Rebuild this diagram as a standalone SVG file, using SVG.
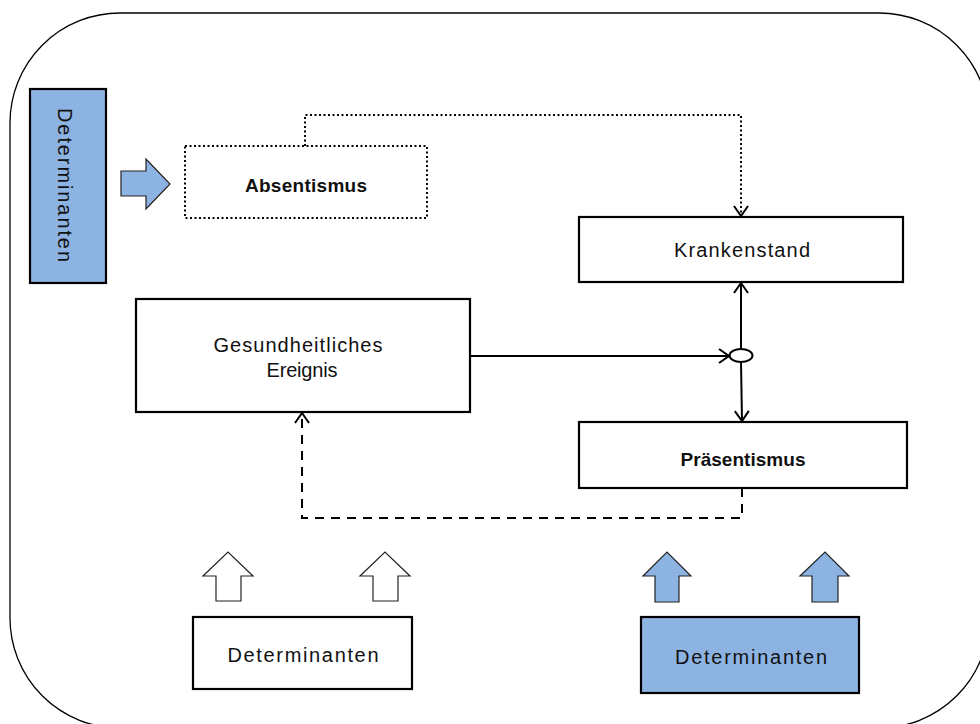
<svg xmlns="http://www.w3.org/2000/svg" width="980" height="724" viewBox="0 0 980 724">
<style>
  .box{fill:#ffffff;stroke:#000;stroke-width:2.2}
  .blue{fill:#8db3e2;stroke:#000;stroke-width:2.2}
  .dotbox{fill:#ffffff;stroke:#000;stroke-width:2;stroke-dasharray:2 2.5}
  .t{font-family:"Liberation Sans",Arial,sans-serif;font-size:20px;fill:#111;text-anchor:middle}
  .b{font-weight:bold;font-size:19px}
  .con{fill:none;stroke:#000;stroke-width:2}
  .dotted{stroke-dasharray:2 2.5}
  .dashed{stroke-dasharray:9 7}
  .barrow{fill:#8db3e2;stroke:#222;stroke-width:1.2}
  .warrow{fill:#ffffff;stroke:#222;stroke-width:1.2}
</style>
<defs>
  <marker id="open" markerUnits="userSpaceOnUse" markerWidth="14" markerHeight="18" refX="11" refY="8" orient="auto">
    <path d="M1,1 L11,8 L1,15" fill="none" stroke="#000" stroke-width="2" stroke-dasharray="none"/>
  </marker>
</defs>
<rect x="10" y="13" width="979" height="715" rx="110" ry="110" fill="#ffffff" stroke="#000" stroke-width="1.3"/>

<g id="det-left">
  <rect class="blue" x="30" y="89" width="76" height="194"/>
  <text class="t" transform="translate(58,185) rotate(90)" x="0" y="0" textLength="154" lengthAdjust="spacing">Determinanten</text>
</g>
<g id="arrow-left">
  <polygon class="barrow" points="121,171 146,171 146,159 170,184 146,209 146,196 121,196"/>
</g>
<g id="absentismus">
  <rect class="dotbox" x="185" y="146" width="242" height="72"/>
  <text class="t b" x="306" y="192" textLength="122" lengthAdjust="spacing">Absentismus</text>
</g>
<g id="krankenstand">
  <rect class="box" x="579" y="217" width="324" height="65"/>
  <text class="t" x="742" y="257" textLength="136" lengthAdjust="spacing">Krankenstand</text>
</g>
<g id="ereignis">
  <rect class="box" x="136" y="299" width="334" height="113"/>
  <text class="t" x="298" y="352" textLength="169" lengthAdjust="spacing">Gesundheitliches</text>
  <text class="t" x="302" y="377" textLength="71" lengthAdjust="spacing">Ereignis</text>
</g>
<g id="junction">
  <ellipse cx="741" cy="355.5" rx="11.5" ry="6.5" fill="#ffffff" stroke="#000" stroke-width="2"/>
</g>
<g id="praesentismus">
  <rect class="box" x="579" y="422" width="328" height="66"/>
  <text class="t b" x="743" y="466" textLength="125" lengthAdjust="spacing">Präsentismus</text>
</g>
<g id="det-bottom-left">
  <polygon class="warrow" points="216,601 216,576 203,576 228,552 253,576 241,576 241,601"/>
  <polygon class="warrow" points="373,601 373,576 360,576 385,552 410,576 398,576 398,601"/>
  <rect class="box" x="193" y="617" width="219" height="72"/>
  <text class="t" x="303" y="662" textLength="151" lengthAdjust="spacing">Determinanten</text>
</g>
<g id="det-bottom-right">
  <polygon class="barrow" points="655,602 655,576 643,576 667,552 691,576 679,576 679,602"/>
  <polygon class="barrow" points="812,602 812,576 800,576 825,552 849,576 838,576 838,602"/>
  <rect class="blue" x="641" y="617" width="218" height="76"/>
  <text class="t" x="751" y="664" textLength="152" lengthAdjust="spacing">Determinanten</text>
</g>

<g id="connectors">
  <path class="con dotted" d="M305,146 V115 H741 V216" marker-end="url(#open)"/>
  <path class="con" d="M470,356 H729" marker-end="url(#open)"/>
  <path class="con" d="M741,349 V283" marker-end="url(#open)"/>
  <path class="con" d="M741,362 L742,421" marker-end="url(#open)"/>
  <path class="con dashed" d="M742,488 V518 H302 V413" marker-end="url(#open)"/>
</g>
</svg>
